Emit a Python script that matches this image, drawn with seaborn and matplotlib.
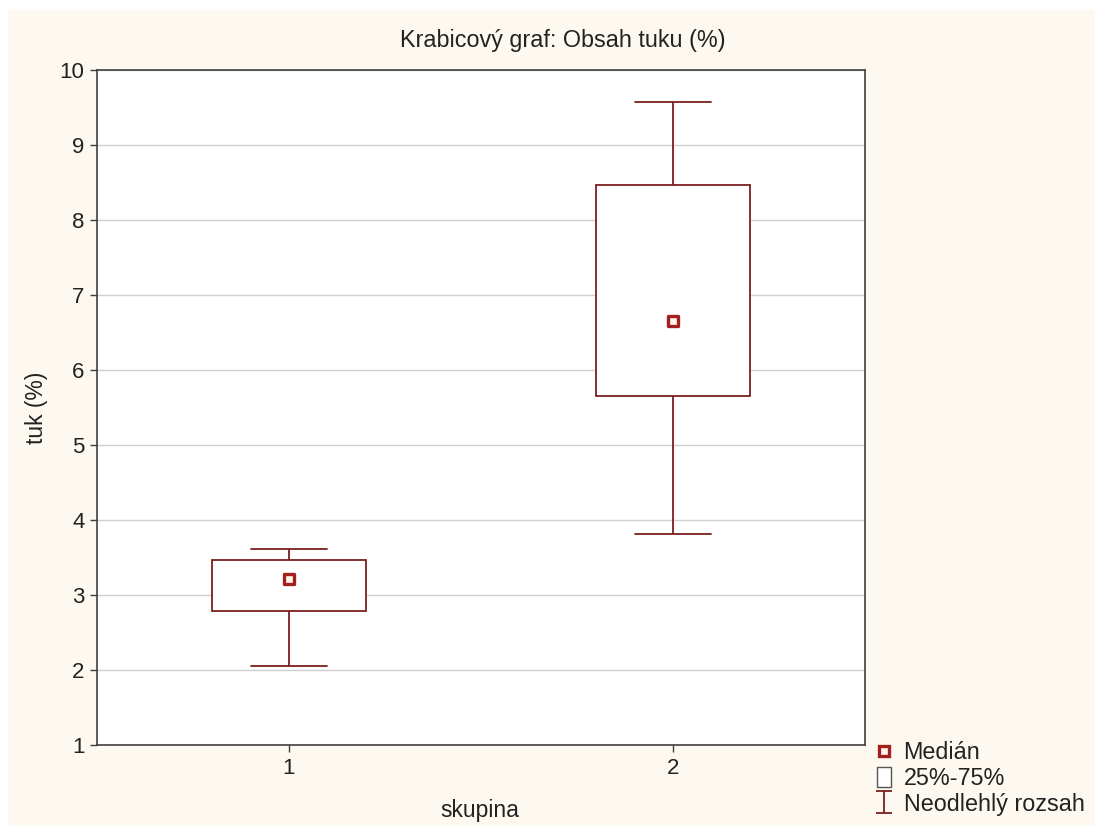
import numpy as np
import pandas as pd
import matplotlib
matplotlib.use("Agg")
import matplotlib.pyplot as plt
from matplotlib.lines import Line2D
from matplotlib.patches import Rectangle
from matplotlib.path import Path
import seaborn as sns

# ---- data ----
groups = ["1", "2"]
whisker_low = [2.06, 3.82]
q1 = [2.79, 5.66]
median = [3.21, 6.66]
q3 = [3.47, 8.47]
whisker_high = [3.62, 9.58]
y_ticks = [1, 2, 3, 4, 5, 6, 7, 8, 9, 10]

title = "Krabicový graf: Obsah tuku (%)"
x_label = "skupina"
y_label = "tuk (%)"
legend_labels = ["Medián", "25%-75%", "Neodlehlý rozsah"]

# five-number summaries -> data whose quartiles reproduce them
rows = []
for g, a, b, c, d, e in zip(groups, whisker_low, q1, median, q3, whisker_high):
    for v in (a, b, c, d, e):
        rows.append({"skupina": g, "tuk": v})
df = pd.DataFrame(rows)
med_df = pd.DataFrame({"skupina": groups, "tuk": median})

sns.set_theme(style="white")
plt.rcParams["font.family"] = ["Liberation Sans", "DejaVu Sans"]

dark = "#7a1f1f"
cream = "#fdf9f0"
txt = "#222222"
FS = 16

fig = plt.figure(figsize=(10.95, 8.26), dpi=100)
fig.patch.set_facecolor("white")
fig.patches.append(Rectangle((8 / 1095, 0), 1 - 8 / 1095, 1 - 10 / 826,
                             transform=fig.transFigure, facecolor=cream,
                             edgecolor="none", zorder=-10))

ax = fig.add_axes([97 / 1095, (826 - 745) / 826, (865 - 97) / 1095, (745 - 70) / 826])
ax.set_facecolor("white")

sns.boxplot(data=df, x="skupina", y="tuk", order=groups, ax=ax, whis=(0, 100),
            width=0.4, color="white", linecolor=dark, linewidth=1.3,
            showfliers=False, medianprops={"visible": False})
sns.scatterplot(data=med_df, x="skupina", y="tuk", ax=ax, marker="s", s=60,
                facecolor="#fff6ee", edgecolor="#a3201f", linewidth=2.4, zorder=5,
                legend=False)

ax.set_xlim(-0.5, 1.5)
ax.set_ylim(1, 10)
ax.set_yticks(y_ticks)
ax.set_yticklabels([str(t) for t in y_ticks])
ax.yaxis.grid(True, color="#cfcfcf", linewidth=1.0)
ax.xaxis.grid(False)
ax.set_axisbelow(True)
for sp in ax.spines.values():
    sp.set_color("#404040")
    sp.set_linewidth(1.2)
ax.tick_params(axis="both", which="both", direction="out", length=5, width=1,
               color="#404040", labelsize=FS, labelcolor=txt,
               left=True, bottom=True, pad=4)
ax.set_xlabel("")
ax.set_ylabel("")

fig.text(563 / 1095, 1 - 40 / 826, title, ha="center", va="center",
         fontsize=16.8, color=txt)
fig.text(480 / 1095, 1 - 810 / 826, x_label, ha="center", va="center",
         fontsize=16.5, color=txt)
fig.text(37 / 1095, 1 - 408 / 826, y_label, ha="center", va="center",
         rotation=90, fontsize=16.5, color=txt)

# legend
ibeam = Path([(-0.35, 0.5), (0.35, 0.5), (0, 0.5), (0, -0.5), (-0.35, -0.5), (0.35, -0.5)],
             [Path.MOVETO, Path.LINETO, Path.MOVETO, Path.LINETO, Path.MOVETO, Path.LINETO])
rect = Path([(-0.36, -0.5), (0.36, -0.5), (0.36, 0.5), (-0.36, 0.5), (-0.36, -0.5)],
            [Path.MOVETO, Path.LINETO, Path.LINETO, Path.LINETO, Path.CLOSEPOLY])
handles = [
    Line2D([], [], linestyle="none", marker="s", markersize=7,
           markerfacecolor="#fff6ee", markeredgecolor="#a3201f", markeredgewidth=2.4),
    Line2D([], [], linestyle="none", marker=rect, markersize=15,
           markerfacecolor="white", markeredgecolor="#555555", markeredgewidth=1.0),
    Line2D([], [], linestyle="none", marker=ibeam, markersize=16,
           markerfacecolor="none", markeredgecolor=dark, markeredgewidth=1.3),
]
fig.legend(handles, legend_labels, loc="upper left",
           bbox_to_anchor=(873 / 1095, 1 - 741 / 826), frameon=False,
           fontsize=16.8, handlelength=0.95, handletextpad=0.36,
           labelspacing=0.12, borderpad=0, borderaxespad=0,
           labelcolor=txt)

fig.savefig("out.png", dpi=100, facecolor=fig.get_facecolor())
